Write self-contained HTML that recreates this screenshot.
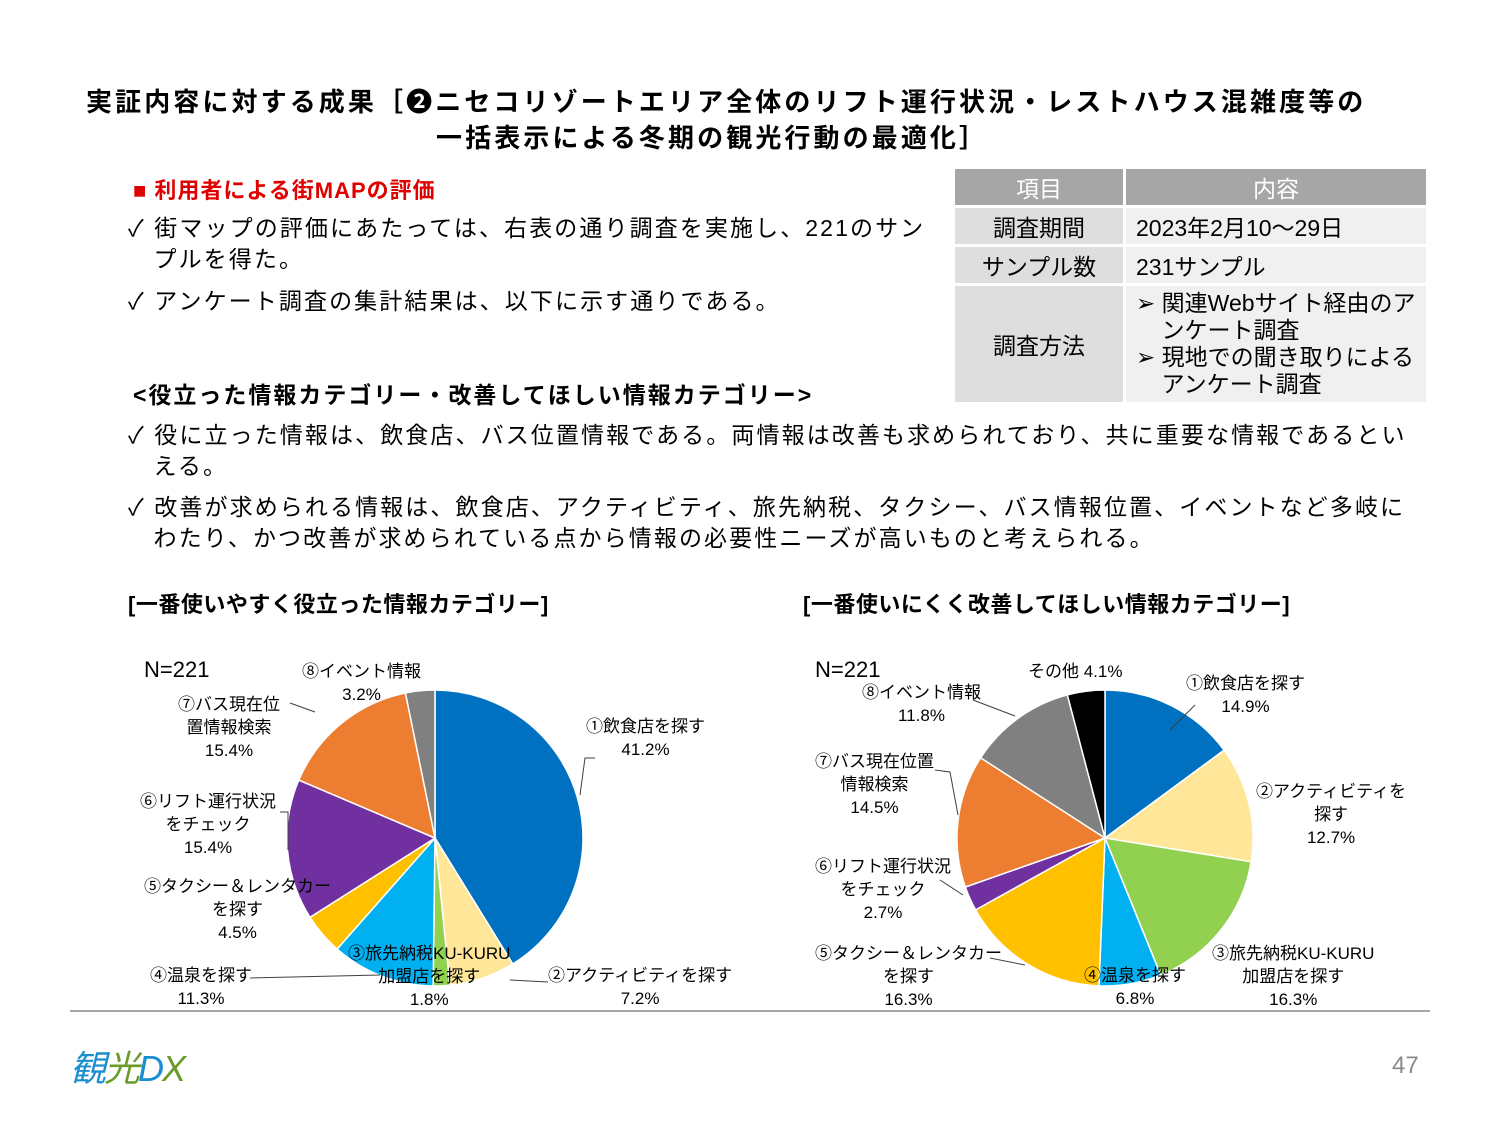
<!DOCTYPE html>
<html><head><meta charset="utf-8">
<style>
body{margin:0;background:#fff;}
#page{position:relative;width:1500px;height:1125px;overflow:hidden;font-family:"Liberation Sans","Noto Sans CJK JP",sans-serif;color:#000;}
.abs{position:absolute;white-space:nowrap;}
.title{font-weight:bold;font-size:26px;letter-spacing:3.1px;}
.body{font-size:23px;line-height:31px;letter-spacing:2.1px;}
table{border-collapse:separate;border-spacing:3px;font-size:23px;}
td{background:#f0f0f0;text-align:center;padding:0;}
.lbl{font-size:17px;text-align:center;line-height:23px;}
</style></head>
<body>
<div id="page">
<div class="abs title" style="left:86px;top:82px;">実証内容に対する成果［❷ニセコリゾートエリア全体のリフト運行状況・レストハウス混雑度等の</div>
<div class="abs title" style="left:436px;top:118px;">一括表示による冬期の観光行動の最適化］</div>
<div class="abs" style="left:133px;top:173px;font-size:22px;font-weight:bold;color:#e00000;letter-spacing:1px">■ 利用者による街MAPの評価</div>
<div class="abs body" style="left:128px;top:213px;">✓ 街マップの評価にあたっては、右表の通り調査を実施し、221のサン<br>&nbsp;&nbsp;&nbsp;プルを得た。</div>
<div class="abs body" style="left:128px;top:286px;">✓ アンケート調査の集計結果は、以下に示す通りである。</div>
<div class="abs" style="left:133px;top:376px;font-size:23px;font-weight:bold;letter-spacing:2px">&lt;役立った情報カテゴリー・改善してほしい情報カテゴリー&gt;</div>
<div class="abs body" style="left:128px;top:420px;">✓ 役に立った情報は、飲食店、バス位置情報である。両情報は改善も求められており、共に重要な情報であるとい<br>&nbsp;&nbsp;&nbsp;える。</div>
<div class="abs body" style="left:128px;top:492px;">✓ 改善が求められる情報は、飲食店、アクティビティ、旅先納税、タクシー、バス情報位置、イベントなど多岐に<br>&nbsp;&nbsp;&nbsp;わたり、かつ改善が求められている点から情報の必要性ニーズが高いものと考えられる。</div>

<table class="abs" style="left:952px;top:166px;">
<tr style="height:36px"><td style="width:168px;background:#a6a6a6;color:#fff">項目</td><td style="width:300px;background:#a6a6a6;color:#fff">内容</td></tr>
<tr style="height:36px"><td style="background:#dedede">調査期間</td><td style="text-align:left;padding-left:10px">2023年2月10～29日</td></tr>
<tr style="height:36px"><td style="background:#dedede">サンプル数</td><td style="text-align:left;padding-left:10px">231サンプル</td></tr>
<tr style="height:116px"><td style="background:#dedede">調査方法</td><td style="text-align:left;padding-left:10px;line-height:27px">➢ 関連Webサイト経由のア<br>&nbsp;&nbsp;&nbsp;&nbsp;ンケート調査<br>➢ 現地での聞き取りによる<br>&nbsp;&nbsp;&nbsp;&nbsp;アンケート調査</td></tr>
</table>

<div class="abs" style="left:128px;top:587px;font-size:22px;font-weight:bold;letter-spacing:0.5px">[一番使いやすく役立った情報カテゴリー]</div>
<div class="abs" style="left:803px;top:587px;font-size:22px;font-weight:bold;letter-spacing:0.5px">[一番使いにくく改善してほしい情報カテゴリー]</div>

<svg class="abs" style="left:0;top:0" width="1500" height="1125" id="charts"></svg>

<div class="abs" style="left:70px;top:1010px;width:1360px;height:2px;background:#a6a6a6"></div>
<div class="abs" style="left:70px;top:1040px;font-size:36px;font-style:italic;letter-spacing:-2px"><span style="color:#1a8fd0">観</span><span style="color:#6a9a2a">光</span><span style="color:#1a8fd0">D</span><span style="color:#6a9a2a">X</span></div>
<div class="abs" style="left:1392px;top:1052px;font-size:24px;color:#8a8a8a">47</div>
</div>
<script>
const leftValues=[41.2,7.2,1.8,11.3,4.5,15.4,15.4,3.2];
const leftCategories=["飲食店","アクティビティ","旅先納税","温泉","タクシー","リフト","バス","イベント"];
const rightValues=[14.9,12.7,16.3,6.8,16.3,2.7,14.5,11.8,4.1];
const rightCategories=["飲食店","アクティビティ","旅先納税","温泉","タクシー","リフト","バス","イベント","その他"];
const leftColors=["#0070c0","#ffe699","#92d050","#00b0f0","#ffc000","#7030a0","#ed7d31","#808080"];
const rightColors=["#0070c0","#ffe699","#92d050","#00b0f0","#ffc000","#7030a0","#ed7d31","#808080","#000000"];
const NS="http://www.w3.org/2000/svg";
const svg=document.getElementById('charts');
function pie(vals,cats,colors,cx,cy,r,prefix){
  const tot=vals.reduce((a,b)=>a+b,0);
  let a0=-Math.PI/2;
  vals.forEach((v,i)=>{
    const a1=a0+v/tot*2*Math.PI;
    const x0=cx+r*Math.cos(a0),y0=cy+r*Math.sin(a0),x1=cx+r*Math.cos(a1),y1=cy+r*Math.sin(a1);
    const large=(a1-a0)>Math.PI?1:0;
    const p=document.createElementNS(NS,'path');
    p.setAttribute('d',`M${cx},${cy}L${x0},${y0}A${r},${r} 0 ${large} 1 ${x1},${y1}Z`);
    p.setAttribute('fill',colors[i]);p.setAttribute('stroke','#fff');p.setAttribute('stroke-width','1.5');
    
    
    svg.appendChild(p);
    a0=a1;
  });
}
pie(leftValues,leftCategories,leftColors,435,838,148,'left');
pie(rightValues,rightCategories,rightColors,1105,838,148,'right');
function line(pts,name){
  const l=document.createElementNS(NS,'polyline');
  l.setAttribute('points',pts);l.setAttribute('fill','none');l.setAttribute('stroke','#404040');l.setAttribute('stroke-width','1');
  
  
  svg.appendChild(l);
}
line("595,758 585,758 580,795","leader-l1");
line("548,982 510,980","leader-l2");
line("290,703 315,712","leader-l7");
line("280,812 288,812 288,850","leader-l6");
line("250,978 380,975","leader-l4");
line("973,700 1015,716","leader-r8");
line("935,770 950,772 958,815","leader-r7");
line("940,880 963,895","leader-r6");
line("990,958 1025,965","leader-r5");
line("1195,705 1170,730","leader-r1");
</script>
<div style="position:absolute;left:0;top:0;width:1500px;height:1125px;pointer-events:none;font-family:'Liberation Sans','Noto Sans CJK JP',sans-serif;">
<div class="abs" style="left:144px;top:657px;font-size:22px">N=221</div>
<div class="abs lbl" style="left:302px;top:660px">⑧イベント情報<br>3.2%</div>
<div class="abs lbl" style="left:178px;top:693px">⑦バス現在位<br>置情報検索<br>15.4%</div>
<div class="abs lbl" style="left:140px;top:790px">⑥リフト運行状況<br>をチェック<br>15.4%</div>
<div class="abs lbl" style="left:144px;top:875px">⑤タクシー＆レンタカー<br>を探す<br>4.5%</div>
<div class="abs lbl" style="left:150px;top:964px">④温泉を探す<br>11.3%</div>
<div class="abs lbl" style="left:348px;top:942px">③旅先納税KU-KURU<br>加盟店を探す<br>1.8%</div>
<div class="abs lbl" style="left:548px;top:964px">②アクティビティを探す<br>7.2%</div>
<div class="abs lbl" style="left:586px;top:715px">①飲食店を探す<br>41.2%</div>
<div class="abs" style="left:815px;top:657px;font-size:22px">N=221</div>
<div class="abs lbl" style="left:1028px;top:660px">その他 4.1%</div>
<div class="abs lbl" style="left:862px;top:681px">⑧イベント情報<br>11.8%</div>
<div class="abs lbl" style="left:815px;top:750px">⑦バス現在位置<br>情報検索<br>14.5%</div>
<div class="abs lbl" style="left:815px;top:855px">⑥リフト運行状況<br>をチェック<br>2.7%</div>
<div class="abs lbl" style="left:815px;top:942px">⑤タクシー＆レンタカー<br>を探す<br>16.3%</div>
<div class="abs lbl" style="left:1084px;top:964px">④温泉を探す<br>6.8%</div>
<div class="abs lbl" style="left:1212px;top:942px">③旅先納税KU-KURU<br>加盟店を探す<br>16.3%</div>
<div class="abs lbl" style="left:1256px;top:780px">②アクティビティを<br>探す<br>12.7%</div>
<div class="abs lbl" style="left:1186px;top:672px">①飲食店を探す<br>14.9%</div>
</div>
</body></html>
